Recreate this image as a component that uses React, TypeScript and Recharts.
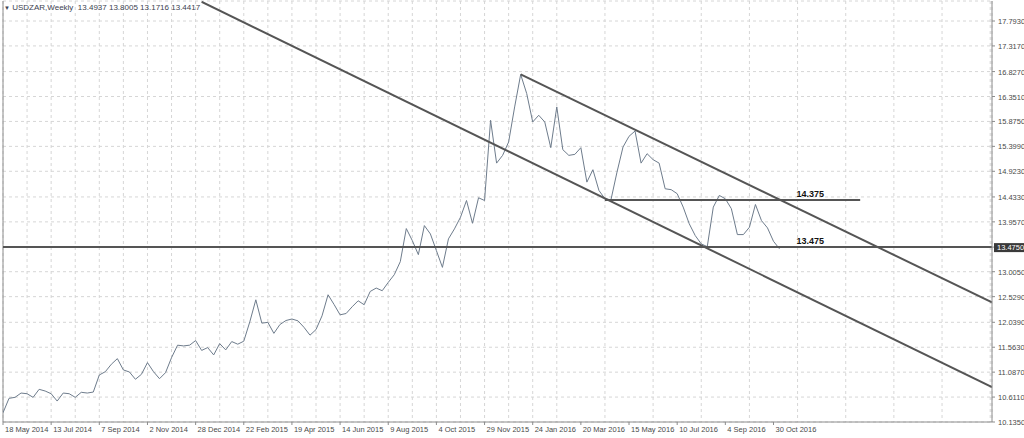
import React from 'react'
import { LineChart, Line, XAxis, YAxis, CartesianGrid, ReferenceLine, ReferenceDot } from 'recharts'

// weekly closes, one per week starting 18 May 2014
const weeklyClose = [
  10.311, 10.587, 10.606, 10.688, 10.675, 10.606, 10.759, 10.727, 10.675, 10.535,
  10.688, 10.675, 10.606, 10.702, 10.688, 10.707, 11.033, 11.096, 11.238, 11.345,
  11.129, 11.09, 10.951, 11.046, 11.269, 11.096, 10.962, 11.077, 11.364, 11.602,
  11.588, 11.602, 11.69, 11.502, 11.556, 11.416, 11.632, 11.512, 11.671, 11.621,
  11.678, 12.048, 12.469, 12.023, 12.038, 11.828, 11.996, 12.073, 12.102, 12.067,
  11.943, 11.793, 11.9, 12.163, 12.565, 12.379, 12.182, 12.207, 12.335, 12.45,
  12.374, 12.628, 12.693, 12.642, 12.801, 12.948, 13.197, 13.829, 13.599, 13.331,
  13.886, 13.727, 13.408, 13.088, 13.632, 13.823, 14.045, 14.365, 13.93, 14.417,
  14.365, 15.897, 15.079, 15.227, 15.482, 16.152, 16.772, 16.408, 15.865, 15.993,
  15.865, 15.374, 16.152, 15.336, 15.227, 15.246, 15.374, 14.716, 14.953, 14.557,
  14.398, 14.379, 14.907, 15.386, 15.591, 15.692, 15.079, 15.259, 15.145, 15.079,
  14.589, 14.572, 14.495, 14.239, 13.921, 13.695, 13.536, 13.484, 14.239, 14.462,
  14.398, 14.209, 13.714, 13.714, 13.854, 14.289, 13.982, 13.842, 13.586, 13.4417,
]

const dateLabels = [
  '18 May 2014', '13 Jul 2014', '7 Sep 2014', '2 Nov 2014', '28 Dec 2014', '22 Feb 2015',
  '19 Apr 2015', '14 Jun 2015', '9 Aug 2015', '4 Oct 2015', '29 Nov 2015', '24 Jan 2016',
  '20 Mar 2016', '15 May 2016', '10 Jul 2016', '4 Sep 2016', '30 Oct 2016',
]

const priceTicks = [
  17.793, 17.317, 16.827, 16.351, 15.875, 15.399, 14.923, 14.433, 13.957,
  13.475, 13.005, 12.529, 12.039, 11.563, 11.087, 10.611, 10.135,
]

// trend lines, as [week index, price]
const lowerChannel = [[33, 18.16], [164.3, 10.8]]
const upperChannel = [[86, 16.772], [164.3, 12.42]]
const resistance = [[100, 14.375], [142.4, 14.375]]
const support = 13.475
const lastMarker = 13.475
const levelLabels = [
  { i: 134.1, v: 14.375, text: '14.375' },
  { i: 134.1, v: 13.475, text: '13.475' },
]

const data = weeklyClose.map((c, i) => ({ i, c }))
const dateTicks = dateLabels.map((_, k) => k * 8)
const gridTicks = Array.from({ length: 42 }, (_, k) => k * 4)
const X_MAX = 164.3

const dateTick = (props: any) => {
  const { x, y, index } = props
  return (
    <text x={x + 2} y={y + 5} fontSize={7.5} fill="#4a4a4a" textAnchor="start">
      {dateLabels[index] ?? ''}
    </text>
  )
}

const priceTick = (props: any) => {
  const { x, y, payload } = props
  if (payload.value === lastMarker) {
    return (
      <g>
        <rect x={x - 3} y={y - 4} width={30} height={9} fill="#3a3a3a" />
        <text x={x} y={y + 3} fontSize={7.5} fill="#fff">{payload.value.toFixed(4)}</text>
      </g>
    )
  }
  return (
    <text x={x + 1} y={y + 3} fontSize={7.5} fill="#4a4a4a">{payload.value.toFixed(4)}</text>
  )
}

export default function App() {
  const lineStyle = { stroke: '#555', strokeWidth: 2 }
  return (
    <div style={{ position: 'absolute', left: 0, top: 0, width: 1024, height: 438, background: '#fff', fontFamily: '"Liberation Sans", Arial, sans-serif' }}>
      <div style={{ position: 'absolute', left: 4, top: 3, fontSize: 8, color: '#3c4250', whiteSpace: 'pre', zIndex: 1 }}>
        <span style={{ fontSize: 6 }}>▼</span> USDZAR,Weekly  13.4937 13.8005 13.1716 13.4417
      </div>
      <LineChart width={1024} height={438} data={data} margin={{ top: 1, right: 0, left: 3, bottom: 0 }}>
        <XAxis xAxisId="grid" dataKey="i" type="number" domain={[0, X_MAX]} ticks={gridTicks} hide allowDataOverflow />
        <CartesianGrid xAxisId="grid" stroke="#d6d6d6" strokeDasharray="3 3" />
        <XAxis
          dataKey="i"
          type="number"
          domain={[0, X_MAX]}
          ticks={dateTicks}
          interval={0}
          height={16}
          tickSize={3}
          tick={dateTick}
          axisLine={{ stroke: '#8c8c8c' }}
          tickLine={{ stroke: '#8c8c8c' }}
          allowDataOverflow
        />
        <YAxis
          orientation="right"
          type="number"
          domain={[10.135, 18.175]}
          ticks={priceTicks}
          interval={0}
          width={32}
          tickSize={3}
          tick={priceTick}
          axisLine={{ stroke: '#8c8c8c' }}
          tickLine={{ stroke: '#8c8c8c' }}
          allowDataOverflow
        />
        <ReferenceLine x={0} stroke="#8c8c8c" />
        <Line dataKey="c" type="linear" stroke="#6e7c8c" strokeWidth={1} dot={false} isAnimationActive={false} />
        <ReferenceLine y={support} {...lineStyle} />
        <ReferenceLine segment={resistance.map(([x, y]) => ({ x, y }))} {...lineStyle} ifOverflow="hidden" />
        <ReferenceLine segment={lowerChannel.map(([x, y]) => ({ x, y }))} {...lineStyle} ifOverflow="hidden" />
        <ReferenceLine segment={upperChannel.map(([x, y]) => ({ x, y }))} {...lineStyle} ifOverflow="hidden" />
        {levelLabels.map(l => (
          <ReferenceDot
            key={l.text}
            x={l.i}
            y={l.v}
            r={0}
            fill="none"
            stroke="none"
            label={{ value: l.text, position: 'top', offset: 3, fontSize: 9, fontWeight: 'bold', fill: '#111' }}
          />
        ))}
      </LineChart>
    </div>
  )
}
